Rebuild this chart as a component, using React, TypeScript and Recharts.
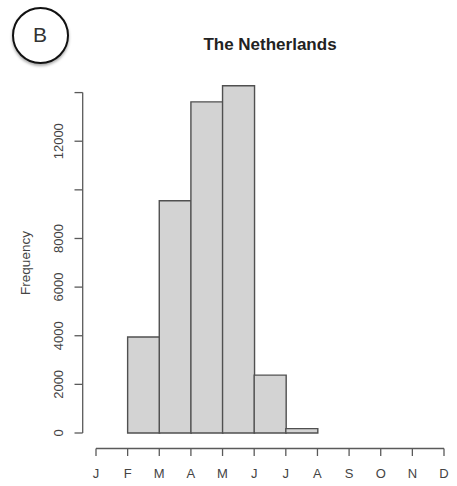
import { Bar, BarChart, XAxis, YAxis } from "recharts";

// monthly bins (Jan..Nov), histogram counts
const bins = ["Jan", "Feb", "Mar", "Apr", "May", "Jun", "Jul", "Aug", "Sep", "Oct", "Nov"];
const counts = [0, 3950, 9550, 13620, 14280, 2380, 180, 0, 0, 0, 0];

// month boundary ticks on the x axis
const monthTicks = [0, 1, 2, 3, 4, 5, 6, 7, 8, 9, 10, 11];
const monthLabels = ["J", "F", "M", "A", "M", "J", "J", "A", "S", "O", "N", "D"];

const yTicks = [0, 2000, 4000, 6000, 8000, 10000, 12000, 14000];
const yLabelled = [0, 2000, 4000, 6000, 8000, 12000];
const yMax = 14600;

// each bin sits between two month boundaries
const data = bins.map((m, i) => ({ month: m, mid: i + 0.5, count: counts[i] }));

const FONT = "'Liberation Sans', Arial, Helvetica, sans-serif";
const AXIS = "#5a5a5a";
const LABEL = "#444";

// plot geometry
const TOP = 78;
const XAXIS_H = 45;
const BOTTOM = 8;
const PLOT_H = 486 - TOP - XAXIS_H - BOTTOM;
const gapTop = ((yMax - yTicks[yTicks.length - 1]) / yMax) * PLOT_H;

function MonthTick(props: any) {
  const { x, y, payload } = props;
  return (
    <g>
      <line x1={x} x2={x} y1={y + 15.5} y2={y + 23} stroke={AXIS} strokeWidth={1.3} />
      <text x={x} y={y + 45} textAnchor="middle" fontSize={13} fill={LABEL} fontFamily={FONT}>
        {monthLabels[payload.value]}
      </text>
    </g>
  );
}

function FreqTick(props: any) {
  const { x, y, payload } = props;
  const show = yLabelled.includes(payload.value);
  return (
    <g>
      <line x1={x - 13.3} x2={x - 21.5} y1={y} y2={y} stroke={AXIS} strokeWidth={1.3} />
      {show && (
        <text
          transform={`translate(${x - 33.5}, ${y}) rotate(-90)`}
          textAnchor="middle"
          fontSize={13}
          fill={LABEL}
          fontFamily={FONT}
        >
          {payload.value}
        </text>
      )}
    </g>
  );
}

export default function App() {
  return (
    <div style={{ position: "absolute", left: 0, top: 0, width: 457, height: 486, background: "#fff" }}>
      <BarChart
        width={457}
        height={486}
        data={data}
        margin={{ top: TOP, right: 13, bottom: BOTTOM, left: 36 }}
        barCategoryGap={0}
        barGap={0}
      >
        <XAxis
          dataKey="mid"
          type="number"
          domain={[0, 11]}
          allowDataOverflow
          ticks={monthTicks}
          interval={0}
          height={XAXIS_H}
          tickSize={0}
          tickMargin={0}
          tickLine={false}
          tick={<MonthTick />}
          axisLine={{ stroke: AXIS, strokeWidth: 1.3, transform: "translate(0, 15.5)" }}
        />
        <YAxis
          type="number"
          domain={[0, yMax]}
          ticks={yTicks}
          interval={0}
          width={60}
          tickSize={0}
          tickMargin={0}
          tickLine={false}
          tick={<FreqTick />}
          axisLine={{
            stroke: AXIS,
            strokeWidth: 1.3,
            transform: "translate(-13.3, 0)",
            strokeDasharray: `0 ${gapTop} ${PLOT_H - gapTop} 50`,
          }}
        />
        <Bar
          dataKey="count"
          fill="#d3d3d3"
          stroke="#505050"
          strokeWidth={1.4}
          isAnimationActive={false}
        />
      </BarChart>
      <svg width={457} height={486} style={{ position: "absolute", left: 0, top: 0, pointerEvents: "none" }}>
        <text x={270} y={50} textAnchor="middle" fontSize={17} fontWeight="bold" fill="#222" fontFamily={FONT}>
          The Netherlands
        </text>
        <text
          transform="translate(30, 263) rotate(-90)"
          textAnchor="middle"
          fontSize={13.5}
          fill={LABEL}
          fontFamily={FONT}
        >
          Frequency
        </text>
      </svg>
      <div
        style={{
          position: "absolute",
          left: 11.5,
          top: 6.5,
          width: 53,
          height: 53,
          border: "2px solid #111",
          borderRadius: "50%",
          boxShadow: "0 2px 3px rgba(0,0,0,0.35)",
          display: "flex",
          alignItems: "center",
          justifyContent: "center",
          fontFamily: FONT,
          fontSize: 21,
          color: "#333",
          background: "#fff",
        }}
      >
        B
      </div>
    </div>
  );
}
